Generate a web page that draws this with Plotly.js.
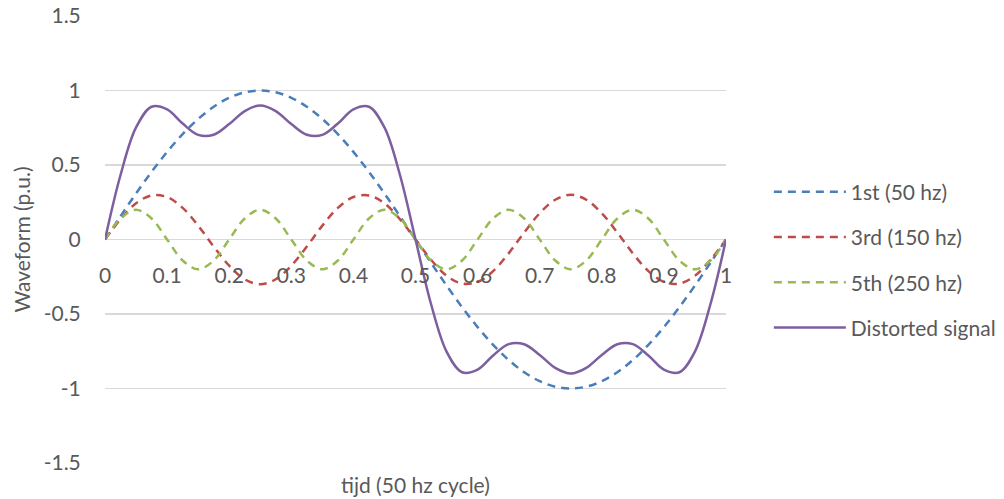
<!DOCTYPE html>
<html>
<head>
<meta charset="utf-8">
<script src="https://cdn.plot.ly/plotly-3.0.1.min.js"></script>
<style>html,body{margin:0;padding:0;background:#fff;}#chart{width:1004px;height:499px;}</style>
</head>
<body>
<div id="chart"></div>
<script>
// time samples (fraction of a 50 hz cycle)
const tijd = [0,0.025,0.05,0.075,0.1,0.125,0.15,0.175,0.2,0.225,0.25,0.275,0.3,0.325,0.35,0.375,0.4,0.425,0.45,0.475,0.5,
  0.525,0.55,0.575,0.6,0.625,0.65,0.675,0.7,0.725,0.75,0.775,0.8,0.825,0.85,0.875,0.9,0.925,0.95,0.975,1];
const first50 = [0,0.156,0.309,0.454,0.588,0.707,0.809,0.891,0.951,0.988,1,0.988,0.951,0.891,0.809,0.707,0.588,0.454,0.309,0.156,0,
  -0.156,-0.309,-0.454,-0.588,-0.707,-0.809,-0.891,-0.951,-0.988,-1,-0.988,-0.951,-0.891,-0.809,-0.707,-0.588,-0.454,-0.309,-0.156,0];
const third150 = [0,0.136,0.243,0.296,0.285,0.212,0.093,-0.047,-0.176,-0.267,-0.3,-0.267,-0.176,-0.047,0.093,0.212,0.285,0.296,0.243,0.136,0,
  -0.136,-0.243,-0.296,-0.285,-0.212,-0.093,0.047,0.176,0.267,0.3,0.267,0.176,0.047,-0.093,-0.212,-0.285,-0.296,-0.243,-0.136,0];
const fifth250 = [0,0.141,0.2,0.141,0,-0.141,-0.2,-0.141,0,0.141,0.2,0.141,0,-0.141,-0.2,-0.141,0,0.141,0.2,0.141,0,
  -0.141,-0.2,-0.141,0,0.141,0.2,0.141,0,-0.141,-0.2,-0.141,0,0.141,0.2,0.141,0,-0.141,-0.2,-0.141,0];
const distorted = [0,0.433,0.752,0.891,0.873,0.778,0.702,0.703,0.775,0.862,0.9,0.862,0.775,0.703,0.702,0.778,0.873,0.891,0.752,0.433,0,
  -0.433,-0.752,-0.891,-0.873,-0.778,-0.702,-0.703,-0.775,-0.862,-0.9,-0.862,-0.775,-0.703,-0.702,-0.778,-0.873,-0.891,-0.752,-0.433,0];
const seriesNames = ["1st (50 hz)","3rd (150 hz)","5th (250 hz)","Distorted signal"];
const xTickVals = [0,0.1,0.2,0.3,0.4,0.5,0.6,0.7,0.8,0.9,1];
const xTickText = ["0","0.1","0.2","0.3","0.4","0.5","0.6","0.7","0.8","0.9","1"];
const yTickVals = [-1.5,-1,-0.5,0,0.5,1,1.5];
const yTickText = ["-1.5","-1","-0.5","0","0.5","1","1.5"];

const colors = ["#4A7EBB","#BE4B48","#98B954","#7D5FA0"];
const dashes = ["8px,6px","8px,6px","8px,6px","solid"];
const ys = [first50, third150, fifth250, distorted];

const traces = ys.map((y,i) => ({
  x: tijd, y: y, type: "scatter", mode: "lines", name: seriesNames[i],
  legendgroup: "g"+i,
  line: {color: colors[i], width: 2.5, dash: dashes[i], shape: "spline", smoothing: 1}
}));

const font = {family: "Lato, 'Open Sans', sans-serif", size: 21, color: "#595959"};

const layout = {
  width: 1004, height: 499,
  margin: {l: 105, r: 278, t: 16, b: 36, pad: 0, autoexpand: false},
  paper_bgcolor: "#fff", plot_bgcolor: "#fff",
  font: font,
  showlegend: true,
  legend: {x: 1.069, xanchor: "left", y: 0.454, yanchor: "middle", font: font,
           itemwidth: 72, tracegroupgap: 15, traceorder: "grouped", bgcolor: "rgba(0,0,0,0)"},
  xaxis: {range: [0, 1], tickvals: xTickVals, ticktext: xTickText, showgrid: false,
          zeroline: false, showline: false, anchor: "free", position: 0.5,
          ticks: "outside", ticklen: 17, tickcolor: "rgba(0,0,0,0)", tickfont: font, fixedrange: true},
  yaxis: {range: [-1.5, 1.5], tickvals: yTickVals, ticktext: yTickText, showgrid: true,
          gridcolor: "#D9D9D9", gridwidth: 1.5, zeroline: true, zerolinecolor: "#D9D9D9", zerolinewidth: 1.5,
          showline: false, ticks: "outside", ticklen: 19, tickcolor: "rgba(0,0,0,0)", tickfont: font,
          title: {text: "Waveform (p.u.)", font: font, standoff: 7}},
  annotations: [{text: "tijd (50 hz cycle)", xref: "paper", yref: "paper", x: 0.5, y: 0, yshift: -36,
                 xanchor: "center", yanchor: "bottom", showarrow: false, font: font}]
};

Plotly.newPlot("chart", traces, layout, {displayModeBar: false, staticPlot: true});
</script>
</body>
</html>
